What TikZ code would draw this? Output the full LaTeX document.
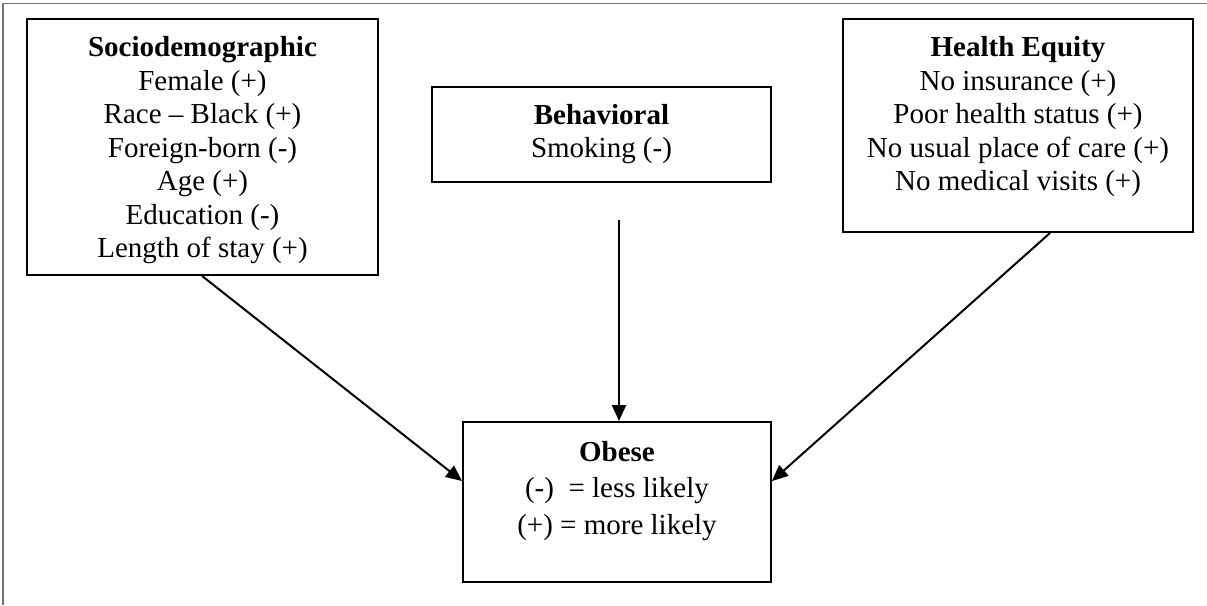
\documentclass[tikz,border=0pt]{standalone}
\usepackage{fontspec}
\setmainfont{Liberation Serif}
\usetikzlibrary{arrows.meta,calc}
\begin{document}
\begin{tikzpicture}[x=1pt,y=-1pt,
  box/.style={draw=black,line width=1.9pt,rectangle,inner sep=0pt},
  txt/.style={align=center,inner sep=0pt,anchor=north,font=\fontsize{29}{33.5}\selectfont},
  txtb/.style={align=center,inner sep=0pt,anchor=north,font=\fontsize{29}{36.5}\selectfont},
  arr/.style={line width=2pt,-{Triangle[length=16pt,width=14pt]}},
  framestyle/.style={draw=black!55,line width=1.3pt}]
\useasboundingbox (0,0) rectangle (1207,605);
\draw[framestyle] (3,605) -- (3,3.5) -- (1207,3.5);

\node[box,minimum width=351pt,minimum height=256pt] (socio) at (202.5,147) {};
\node[box,minimum width=350pt,minimum height=213pt] (health) at (1018,125.5) {};
\node[box,minimum width=339pt,minimum height=95pt] (behav) at (601.5,134.5) {};
\node[box,minimum width=308pt,minimum height=160pt] (obese) at (617,502) {};

\node[txt] (sociot) at ([yshift=-15pt]socio.north) {\strut\textbf{Sociodemographic}\\Female (+)\\Race -- Black (+)\\Foreign-born (-)\\Age (+)\\Education (-)\\Length of stay (+)};
\node[txt] (healtht) at ([yshift=-15pt]health.north) {\strut\textbf{Health Equity}\\No insurance (+)\\Poor health status (+)\\No usual place of care (+)\\No medical visits (+)};
\node[txt] (behavt) at ([yshift=-14.5pt]behav.north) {\strut\textbf{Behavioral}\\Smoking (-)};
\node[txtb] (obeset) at ([yshift=-14.5pt]obese.north) {\strut\textbf{Obese}\\(-)\ \ = less likely\\(+) = more likely};

\coordinate (bTail) at (619,220);
\draw[arr] ([xshift=176pt]socio.south west) -- ([yshift=-60pt]obese.north west);
\draw[arr] ([xshift=208pt]health.south west) -- ([yshift=-60pt]obese.north east);
\draw[arr] (bTail) -- (bTail |- obese.north);
\end{tikzpicture}
\end{document}
